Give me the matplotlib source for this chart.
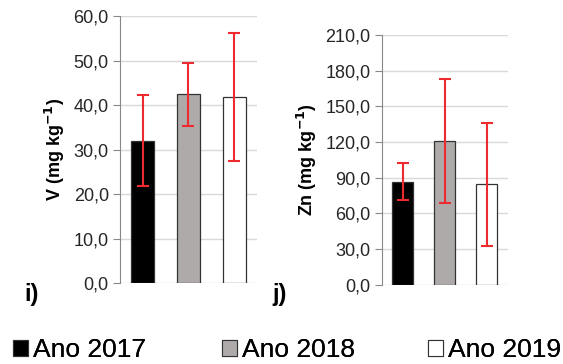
import numpy as np
import matplotlib.pyplot as plt
from matplotlib.patches import Patch

plt.rcParams['font.family'] = ['Liberation Sans', 'DejaVu Sans']

# Data
years = ['Ano 2017', 'Ano 2018', 'Ano 2019']
colors = ['#000000', '#AEAAAA', '#FFFFFF']

v_mean = [32.0, 42.4, 41.8]
v_err = [10.3, 7.1, 14.3]

zn_mean = [86.6, 120.8, 84.4]
zn_err = [15.4, 52.0, 51.8]

v_ticks = [0, 10, 20, 30, 40, 50, 60]
zn_ticks = [0, 30, 60, 90, 120, 150, 180, 210]

fig = plt.figure(figsize=(5.63, 3.64), dpi=100)
ax1 = fig.add_axes([0.2131, 0.2225, 0.2433, 0.7335])
ax2 = fig.add_axes([0.678, 0.2179, 0.2238, 0.686])


def draw(ax, means, errs, ticks, ylabel):
    x = np.arange(len(means))
    ax.bar(x, means, width=0.5, color=colors, edgecolor='#333333', linewidth=0.9, zorder=3)
    ax.errorbar(x, means, yerr=errs, fmt='none', ecolor='#EE2A2F', elinewidth=1.5,
                capsize=4, capthick=1.5, zorder=4)
    ax.set_xlim(-0.5, 2.5)
    ax.set_ylim(ticks[0], ticks[-1])
    ax.set_yticks(ticks)
    ax.set_yticklabels([f'{t:.1f}'.replace('.', ',') for t in ticks], fontsize=13, color='#262626')
    ax.set_xticks([])
    ax.grid(axis='y', color='#D9D9D9', linewidth=1, zorder=0)
    for s in ['top', 'right', 'bottom']:
        ax.spines[s].set_visible(False)
    ax.spines['left'].set_color('#888888')
    ax.tick_params(axis='y', length=5, color='#888888', pad=3)
    ax.set_ylabel(ylabel, fontsize=13, fontweight='bold', labelpad=5)


draw(ax1, v_mean, v_err, v_ticks, 'V (mg kg$^{\\mathbf{-1}}$)')
draw(ax2, zn_mean, zn_err, zn_ticks, 'Zn (mg kg$^{\\mathbf{-1}}$)')

fig.text(24 / 563, 1 - 294 / 364, 'i)', fontsize=17, fontweight='bold', va='center')
fig.text(272 / 563, 1 - 294 / 364, 'j)', fontsize=17, fontweight='bold', va='center')

# three separate legend entries, placed like the reference
legend_x = [13, 222, 428]
for lab, c, lx in zip(years, colors, legend_x):
    h = Patch(facecolor=c, edgecolor='#333333', linewidth=0.8)
    leg = fig.legend([h], [lab], loc='center left', bbox_to_anchor=(lx / 563, 1 - 350 / 364),
                     frameon=False, fontsize=19, handlelength=0.55, handleheight=0.55,
                     handletextpad=0.2, borderaxespad=0, borderpad=0)
    fig.add_artist(leg)

fig.savefig('out.png', dpi=100)
